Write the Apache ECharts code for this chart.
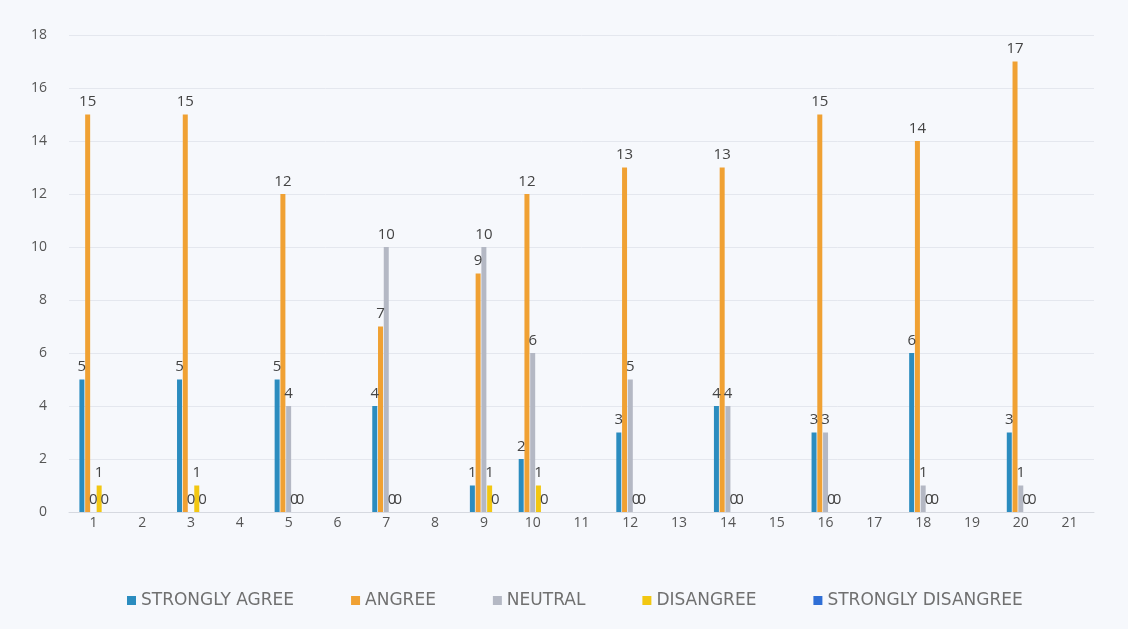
<!DOCTYPE html>
<html>
<head>
<meta charset="utf-8">
<script src="https://cdn.jsdelivr.net/npm/echarts@6/dist/echarts.min.js"></script>
<style>
  html, body { margin: 0; padding: 0; background: #f6f8fc; }
  #chart { width: 1128px; height: 629px; }
</style>
</head>
<body>
<div id="chart"></div>
<script>
// categories 1..21, only some carry responses
const categories = ['1', '2', '3', '4', '5', '6', '7', '8', '9', '10', '11',
    '12', '13', '14', '15', '16', '17', '18', '19', '20', '21'];

const seriesNames = ['STRONGLY AGREE', 'ANGREE', 'NEUTRAL', 'DISANGREE', 'STRONGLY DISANGREE'];

//                     1    2    3    4    5    6    7    8    9   10   11   12   13   14   15   16   17   18   19   20   21
const stronglyAgree = [5, null, 5, null, 5, null, 4, null, 1, 2, null, 3, null, 4, null, 3, null, 6, null, 3, null];
const agree = [15, null, 15, null, 12, null, 7, null, 9, 12, null, 13, null, 13, null, 15, null, 14, null, 17, null];
const neutral = [0, null, 0, null, 4, null, 10, null, 10, 6, null, 5, null, 4, null, 3, null, 1, null, 1, null];
const disagree = [1, null, 1, null, 0, null, 0, null, 1, 1, null, 0, null, 0, null, 0, null, 0, null, 0, null];
const stronglyDisagree = [0, null, 0, null, 0, null, 0, null, 0, 0, null, 0, null, 0, null, 0, null, 0, null, 0, null];

const yTicks = [0, 2, 4, 6, 8, 10, 12, 14, 16, 18];

const colors = ['#2b8cbf', '#f0a133', '#b4b8c4', '#f2c712', '#2f6fd6'];
const values = [stronglyAgree, agree, neutral, disagree, stronglyDisagree];

const chart = echarts.init(document.getElementById('chart'));

const series = seriesNames.map((name, i) => ({
    name: name,
    type: 'bar',
    data: values[i],
    barWidth: 5,
    barGap: '15%',
    itemStyle: { color: colors[i] },
    label: {
        show: true,
        position: 'top',
        distance: 5,
        color: '#444',
        fontSize: 15,
        fontFamily: 'Open Sans'
    }
}));

chart.setOption({
    backgroundColor: '#f6f8fc',
    animation: false,
    color: colors,
    grid: {
        left: 69,
        right: 34,
        top: 35,
        bottom: 117,
        containLabel: false
    },
    xAxis: {
        type: 'category',
        data: categories,
        axisLine: { lineStyle: { color: '#d6d9e0' } },
        axisTick: { show: false },
        axisLabel: {
            color: '#555',
            fontSize: 14,
            fontFamily: 'Open Sans',
            margin: 4
        }
    },
    yAxis: {
        type: 'value',
        min: yTicks[0],
        max: yTicks[yTicks.length - 1],
        interval: 2,
        axisLine: { show: false },
        axisTick: { show: false },
        axisLabel: {
            color: '#555',
            fontSize: 14,
            fontFamily: 'Open Sans',
            margin: 22
        },
        splitLine: { lineStyle: { color: '#e4e7ee' } }
    },
    legend: {
        data: seriesNames,
        top: 587,
        left: 122,
        itemWidth: 9,
        itemHeight: 9,
        itemGap: 57,
        icon: 'rect',
        textStyle: {
            color: '#707070',
            fontSize: 17,
            fontFamily: 'DejaVu Sans'
        }
    },
    series: series
});
</script>
</body>
</html>
